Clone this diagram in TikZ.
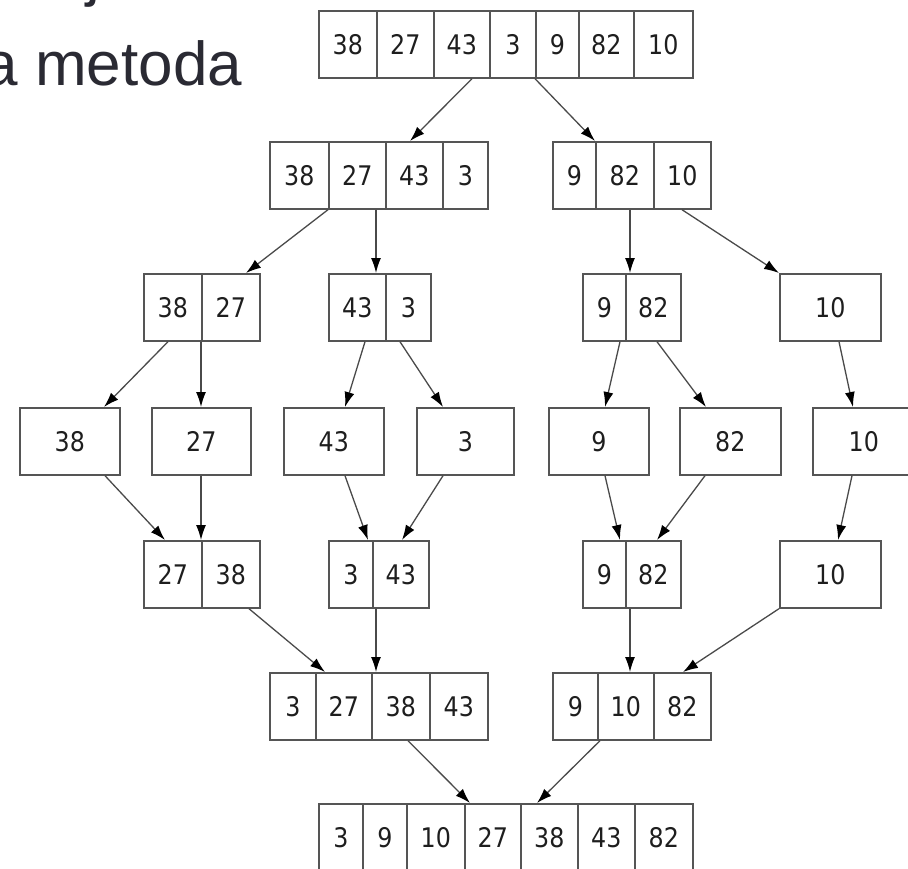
\documentclass[tikz,border=0pt]{standalone}
\usepackage{fontspec}
\usetikzlibrary{arrows.meta}
\newfontfamily\cellfont[FakeStretch=0.88]{DejaVu Sans}
\newfontfamily\headfont{Liberation Sans}
\definecolor{boxline}{HTML}{555555}
\definecolor{linkgray}{HTML}{4A4A4A}
\definecolor{digit}{HTML}{1E1E1E}
\definecolor{headink}{HTML}{2A2A33}
\tikzset{
  cell/.style={draw=boxline, line width=1.7pt, minimum height=67pt,
    inner sep=0pt, anchor=north west, text=digit,
    font=\cellfont\fontsize{27}{27}\selectfont},
  link/.style={draw=linkgray, line width=1.3pt,
    -{Latex[length=15pt,width=10pt,color=black]}},
  headline/.style={inner sep=0pt, anchor=base west, text=headink,
    font=\headfont\fontsize{62}{74}\selectfont}
}
\begin{document}
\begin{tikzpicture}[x=1pt,y=-1pt]
\useasboundingbox (0,0) rectangle (908,868);
\clip (0,0) rectangle (908,868);

% slide heading, partly outside the frame
\node[headline] (prevline) at (86,-6) {j};
\node[headline] (heading) at (-16.5,85) {a metoda};

% row 1: the unsorted array
\foreach \n/\x/\w/\t in {r1c1/318/58/38, r1c2/376/57/27, r1c3/433/56/43,
  r1c4/489/46/3, r1c5/535/43/9, r1c6/578/55/82, r1c7/633/59/10}
  \node[cell, minimum width=\w pt] (\n) at (\x,10) {\t};

% row 2
\foreach \n/\x/\w/\t in {r2a1/269/59/38, r2a2/328/57/27, r2a3/385/57/43,
  r2a4/442/45/3, r2b1/552/43/9, r2b2/595/58/82, r2b3/653/57/10}
  \node[cell, minimum width=\w pt] (\n) at (\x,141) {\t};

% row 3
\foreach \n/\x/\w/\t in {r3a1/143/58/38, r3a2/201/58/27, r3b1/328/57/43,
  r3b2/385/45/3, r3c1/582/43/9, r3c2/625/55/82, r3d/779/101/10}
  \node[cell, minimum width=\w pt] (\n) at (\x,273) {\t};

% row 4: single elements
\foreach \n/\x/\w/\t in {r4a/19/100/38, r4b/151/99/27, r4c/283/100/43,
  r4d/416/97/3, r4e/548/100/9, r4f/679/101/82, r4g/812/102/10}
  \node[cell, minimum width=\w pt] (\n) at (\x,407) {\t};

% row 5: merged pairs
\foreach \n/\x/\w/\t in {r5a1/143/58/27, r5a2/201/58/38, r5b1/328/44/3,
  r5b2/372/56/43, r5c1/582/43/9, r5c2/625/55/82, r5d/779/101/10}
  \node[cell, minimum width=\w pt] (\n) at (\x,540) {\t};

% row 6
\foreach \n/\x/\w/\t in {r6a1/269/46/3, r6a2/315/56/27, r6a3/371/58/38,
  r6a4/429/58/43, r6b1/552/45/9, r6b2/597/56/10, r6b3/653/57/82}
  \node[cell, minimum width=\w pt] (\n) at (\x,672) {\t};

% row 7: the sorted array
\foreach \n/\x/\w/\t in {r7c1/318/44/3, r7c2/362/44/9, r7c3/406/58/10,
  r7c4/464/56/27, r7c5/520/57/38, r7c6/577/57/43, r7c7/634/58/82}
  \node[cell, minimum width=\w pt] (\n) at (\x,803) {\t};

% splitting
\draw[link] ([xshift=39pt]r1c3.south west) -- ([xshift=25pt]r2a3.north west);
\draw[link] (r1c5.south west) -- (r2b2.north west);
\draw[link] (r2a2.south west) -- ([xshift=45pt]r3a2.north west);
\draw[link] ([xshift=48pt]r2a2.south west) -- ([xshift=48pt]r3b1.north west);
\draw[link] ([xshift=35pt]r2b2.south west) -- ([xshift=5pt]r3c2.north west);
\draw[link] ([xshift=29pt]r2b3.south west) -- (r3d.north west);
\draw[link] ([xshift=25pt]r3a1.south west) -- ([xshift=85pt]r4a.north west);
\draw[link] (r3a2.south west) -- ([xshift=50pt]r4b.north west);
\draw[link] ([xshift=37pt]r3b1.south west) -- ([xshift=62pt]r4c.north west);
\draw[link] ([xshift=15pt]r3b2.south west) -- ([xshift=27pt]r4d.north west);
\draw[link] ([xshift=38pt]r3c1.south west) -- ([xshift=57pt]r4e.north west);
\draw[link] ([xshift=32pt]r3c2.south west) -- ([xshift=27pt]r4f.north west);
\draw[link] ([xshift=60pt]r3d.south west) -- ([xshift=41pt]r4g.north west);

% merging
\draw[link] ([xshift=86pt]r4a.south west) -- ([xshift=22pt]r5a1.north west);
\draw[link] ([xshift=50pt]r4b.south west) -- (r5a2.north west);
\draw[link] ([xshift=62pt]r4c.south west) -- ([xshift=40pt]r5b1.north west);
\draw[link] ([xshift=27pt]r4d.south west) -- ([xshift=30pt]r5b2.north west);
\draw[link] ([xshift=57pt]r4e.south west) -- ([xshift=38pt]r5c1.north west);
\draw[link] ([xshift=26pt]r4f.south west) -- ([xshift=32pt]r5c2.north west);
\draw[link] ([xshift=40pt]r4g.south west) -- ([xshift=59pt]r5d.north west);
\draw[link] ([xshift=48pt]r5a2.south west) -- ([xshift=10pt]r6a2.north west);
\draw[link] ([xshift=4pt]r5b2.south west) -- ([xshift=5pt]r6a3.north west);
\draw[link] ([xshift=5pt]r5c2.south west) -- ([xshift=33pt]r6b2.north west);
\draw[link] (r5d.south west) -- ([xshift=30pt]r6b3.north west);
\draw[link] ([xshift=37pt]r6a3.south west) -- ([xshift=6pt]r7c4.north west);
\draw[link] ([xshift=48pt]r6b1.south west) -- ([xshift=17pt]r7c5.north west);
\end{tikzpicture}
\end{document}
